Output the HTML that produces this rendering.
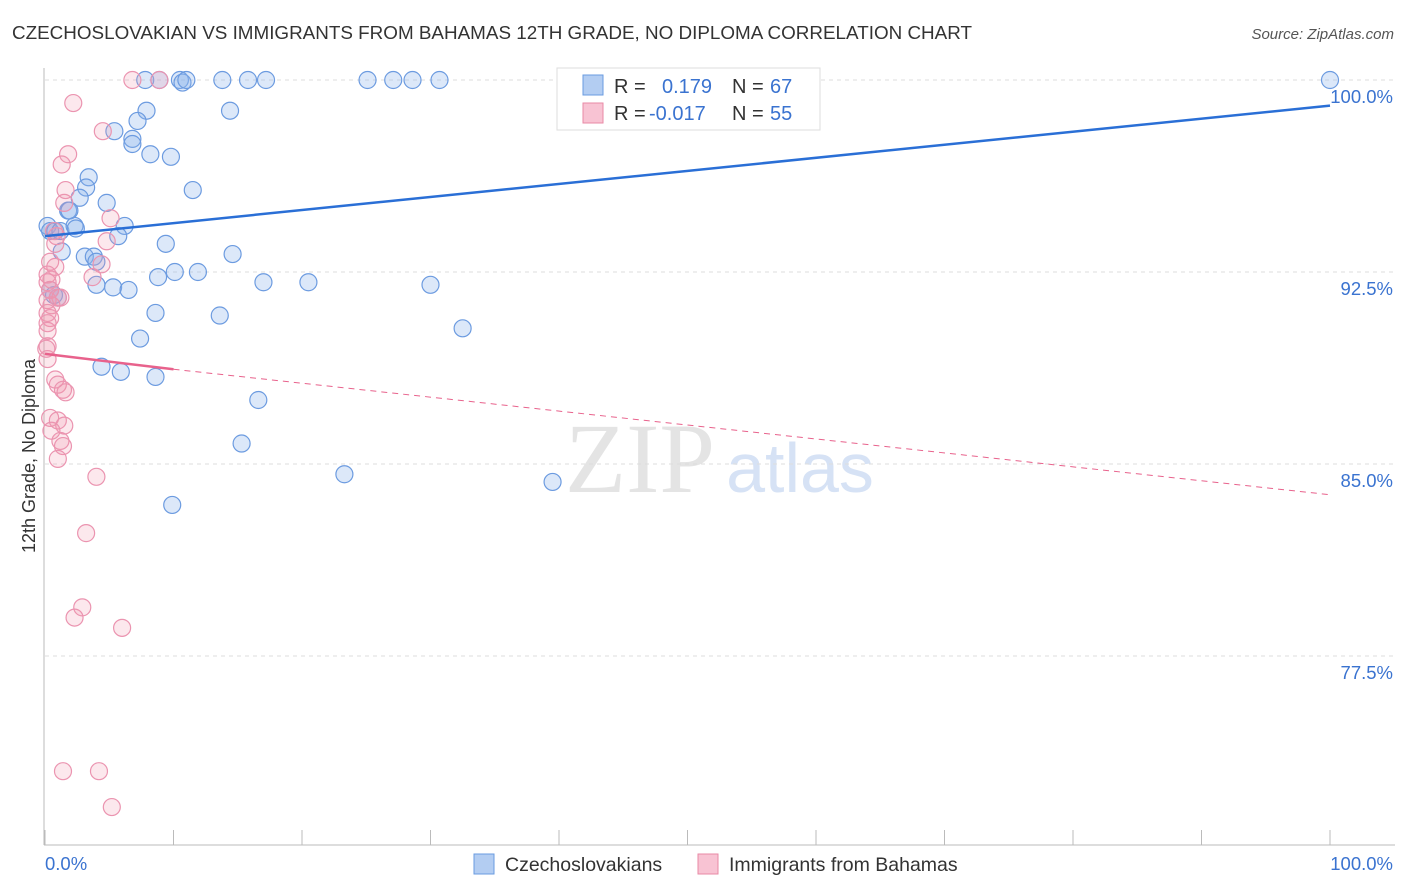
<!DOCTYPE html>
<html><head><meta charset="utf-8"><style>
body{margin:0;background:#fff;font-family:"Liberation Sans",sans-serif}
svg{display:block}
</style></head><body>
<svg id="c" width="1406" height="892" xmlns="http://www.w3.org/2000/svg">
<text x="12" y="39" font-size="18" fill="#333" textLength="960" lengthAdjust="spacingAndGlyphs">CZECHOSLOVAKIAN VS IMMIGRANTS FROM BAHAMAS 12TH GRADE, NO DIPLOMA CORRELATION CHART</text>
<text x="1394" y="39" font-size="15" fill="#555" font-style="italic" text-anchor="end">Source: ZipAtlas.com</text>
<text x="640" y="492" font-size="100" fill="#e4e4e4" font-family="Liberation Serif" text-anchor="middle">ZIP</text>
<text x="800" y="492" font-size="70" fill="#d6e2f5" text-anchor="middle">atlas</text>
<text transform="translate(35,456) rotate(-90)" font-size="18" fill="#333" text-anchor="middle">12th Grade, No Diploma</text>
<g id="grid"></g><g id="marks"></g>
<g>
<rect x="557" y="68" width="263" height="62" fill="#fff" stroke="#ddd"/>
<rect x="583" y="75" width="20" height="20" fill="#b3cdf2" stroke="#6a9be0"/>
<rect x="583" y="103" width="20" height="20" fill="#f8c3d3" stroke="#e88aa6"/>
<text x="614" y="93" font-size="20" fill="#333">R = </text><text x="662" y="93" font-size="20" fill="#3a73d0">0.179</text>
<text x="732" y="93" font-size="20" fill="#333">N = </text><text x="770" y="93" font-size="20" fill="#3a73d0">67</text>
<text x="614" y="120" font-size="20" fill="#333">R = </text><text x="649" y="120" font-size="20" fill="#3a73d0">-0.017</text>
<text x="732" y="120" font-size="20" fill="#333">N = </text><text x="770" y="120" font-size="20" fill="#3a73d0">55</text>
</g>
<g>
<rect x="474" y="854" width="20" height="20" fill="#b3cdf2" stroke="#6a9be0"/>
<text x="505" y="871" font-size="19.5" fill="#333">Czechoslovakians</text>
<rect x="698" y="854" width="20" height="20" fill="#f8c3d3" stroke="#e88aa6"/>
<text x="729" y="871" font-size="19.5" fill="#333">Immigrants from Bahamas</text>
</g>
</svg>
<script>
const yTicks=[100,92.5,85,77.5];
const yTickLabels=["100.0%","92.5%","85.0%","77.5%"];
const xTickLabels=["0.0%","100.0%"];
const blueX=[7.8,8.9,10.5,10.7,11.0,13.8,15.8,17.2,25.1,27.1,28.6,30.7,50.0,100,7.9,14.4,7.2,5.4,6.8,6.8,8.2,9.8,11.5,3.4,3.2,2.7,4.8,1.8,1.9,0.2,0.4,0.8,1.2,2.3,2.4,6.2,5.7,9.4,1.3,3.1,3.8,4.0,14.6,8.8,10.1,11.9,4.0,5.3,6.5,17.0,20.5,30.0,8.6,13.6,32.5,7.4,4.4,5.9,8.6,16.6,15.3,23.3,39.5,9.9,0.7,0.4,1.0];
const blueY=[100,100,100,99.9,100,100,100,100,100,100,100,100,100,100,98.8,98.8,98.4,98.0,97.7,97.5,97.1,97.0,95.7,96.2,95.8,95.4,95.2,94.9,94.9,94.3,94.1,94.1,94.1,94.3,94.2,94.3,93.9,93.6,93.3,93.1,93.1,92.9,93.2,92.3,92.5,92.5,92.0,91.9,91.8,92.1,92.1,92.0,90.9,90.8,90.3,89.9,88.8,88.6,88.4,87.5,85.8,84.6,84.3,83.4,91.6,91.8,91.5];
const pinkX=[6.8,8.9,2.2,4.5,1.8,1.3,1.5,5.1,4.8,0.9,0.8,4.4,3.7,0.4,0.8,0.2,0.5,0.4,1.2,0.2,0.5,0.2,0.4,0.2,0.2,0.2,0.2,0.8,1.0,1.4,1.6,0.4,1.0,1.5,0.5,1.2,1.4,1.0,4.0,3.2,2.9,2.3,6.0,1.4,4.2,5.2,0.2,0.7,1.0,0.1,1.6];
const pinkY=[100,100,99.1,98.0,97.1,96.7,95.2,94.6,93.7,93.9,93.6,92.8,92.3,92.9,92.7,92.4,92.2,91.8,91.5,91.4,91.2,90.9,90.7,90.5,90.2,89.6,89.1,88.3,88.1,87.9,87.8,86.8,86.7,86.5,86.3,85.9,85.7,85.2,84.5,82.3,79.4,79.0,78.6,73.0,73.0,71.6,92.1,94.1,91.5,89.5,95.7];
const blueLine=[[0,93.9],[100,99.0]];
const pinkLine=[[0,89.3],[10,88.7],[100,83.8]];
const NS="http://www.w3.org/2000/svg";
const X=v=>45+v*12.85, Y=v=>80+(100-v)*25.6;
function mk(t,a,p){const e=document.createElementNS(NS,t);for(const k in a)e.setAttribute(k,a[k]);p.appendChild(e);return e;}
const g=document.getElementById('grid'),m=document.getElementById('marks');
yTicks.forEach((t,i)=>{
 const l=mk('line',{x1:45,x2:1395,y1:Y(t),y2:Y(t),stroke:'#ddd','stroke-dasharray':'4,4'},g);
 
 
 const tx=mk('text',{x:1393,y:Y(t)+23,'font-size':18.5,fill:'#3a73d0','text-anchor':'end'},g);
 tx.textContent=yTickLabels[i];
 
 
});
const ax=mk('line',{x1:44,x2:44,y1:68,y2:845,stroke:'#bbb'},g);


const bx=mk('line',{x1:44,x2:1395,y1:845,y2:845,stroke:'#bbb'},g);


for(let i=0;i<=10;i++){
 const t=mk('line',{x1:X(i*10),x2:X(i*10),y1:830,y2:845,stroke:'#bbb'},g);
 
 
}
[[0,'start',45],[1,'end',1393]].forEach(([i,a,x])=>{
 const t=mk('text',{x:x,y:870,'font-size':18.5,fill:'#3a73d0','text-anchor':a},g);
 t.textContent=xTickLabels[i];
 
 
});
blueX.forEach((v,i)=>{
 const c=mk('circle',{cx:X(v),cy:Y(blueY[i]),r:8.5,fill:'rgba(140,180,235,0.3)',stroke:'#6c9be0','stroke-width':1.2},m);
 
 
});
pinkX.forEach((v,i)=>{
 const c=mk('circle',{cx:X(v),cy:Y(pinkY[i]),r:8.5,fill:'rgba(240,150,175,0.22)',stroke:'#eb94b0','stroke-width':1.2},m);
 
 
});
const bl=mk('line',{x1:X(blueLine[0][0]),y1:Y(blueLine[0][1]),x2:X(blueLine[1][0]),y2:Y(blueLine[1][1]),stroke:'#2a6fd6','stroke-width':2.5},m);


const ps=mk('line',{x1:X(pinkLine[0][0]),y1:Y(pinkLine[0][1]),x2:X(pinkLine[1][0]),y2:Y(pinkLine[1][1]),stroke:'#e8628c','stroke-width':2.5},m);


const pd=mk('line',{x1:X(pinkLine[1][0]),y1:Y(pinkLine[1][1]),x2:X(pinkLine[2][0]),y2:Y(pinkLine[2][1]),stroke:'#e8628c','stroke-width':1,'stroke-dasharray':'6,5'},m);


</script>
</body></html>
